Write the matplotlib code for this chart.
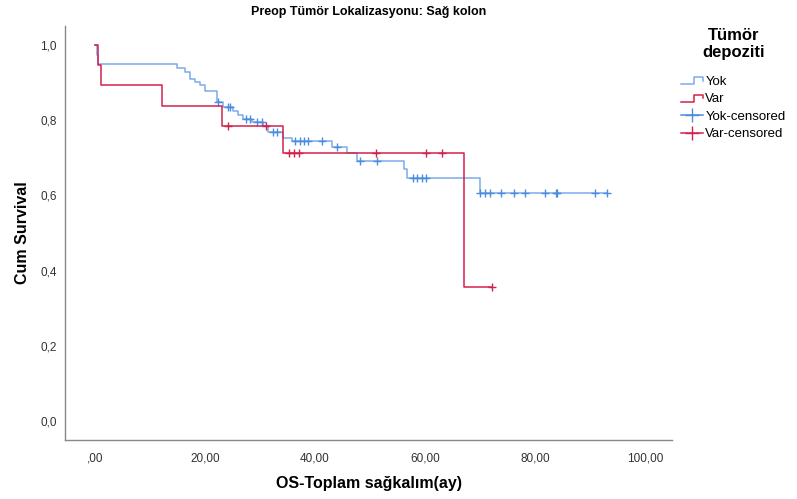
import numpy as np
import matplotlib
matplotlib.use("Agg")
import matplotlib.pyplot as plt
from matplotlib.ticker import FuncFormatter
from matplotlib.legend_handler import HandlerBase
from matplotlib.lines import Line2D

plt.rcParams['font.family'] = ['Liberation Sans', 'DejaVu Sans']

# Kaplan-Meier steps: (time, survival after the step)
yok_t = [0, 0.3, 0.6, 15.0, 16.4, 17.2, 18.2, 19.1, 20.0, 22.1, 23.3, 25.1, 26.0,
         26.9, 28.5, 30.6, 31.5, 34.1, 35.8, 43.0, 45.8, 47.7, 56.2, 56.8, 70.0]
yok_s = [1.0, 0.973, 0.949, 0.938, 0.927, 0.910, 0.902, 0.892, 0.878, 0.849, 0.834,
         0.823, 0.814, 0.802, 0.794, 0.783, 0.769, 0.752, 0.744, 0.728, 0.712, 0.692,
         0.669, 0.645, 0.607]
yok_cens = [22.3, 24.2, 24.5, 27.4, 28.2, 29.5, 30.3, 32.3, 33.1, 36.4, 37.2, 38.0,
            38.8, 41.2, 44.0, 48.1, 51.3, 57.9, 58.6, 59.4, 60.2, 70.0, 70.9, 71.8,
            73.9, 76.1, 78.1, 81.9, 83.8, 84.0, 90.9, 93.0]

var_t = [0, 0.6, 1.1, 12.1, 23.1, 34.1, 67.0]
var_s = [1.0, 0.947, 0.894, 0.838, 0.783, 0.712, 0.356]
var_cens = [24.1, 31.1, 35.2, 36.1, 37.0, 51.1, 60.1, 63.0, 72.1]

groups = ['Yok', 'Var']
line_cols = ['#7cabeb', '#d3204c']
cens_cols = ['#4a8de0', '#d3204c']


class StepHandler(HandlerBase):
    def create_artists(self, legend, orig, xd, yd, w, h, fontsize, trans):
        xs = [xd, xd + 0.6 * w, xd + 0.6 * w, xd + w, xd + w]
        ys = [yd + 0.1 * h, yd + 0.1 * h, yd + 0.85 * h, yd + 0.85 * h, yd + 0.45 * h]
        ln = Line2D(xs, ys, color=orig.get_color(), lw=orig.get_linewidth())
        ln.set_transform(trans)
        return [ln]


fig = plt.figure(figsize=(7.97, 4.99), dpi=100)
ax = fig.add_axes([65 / 797, 1 - 440 / 499, (672 - 65) / 797, (440 - 26) / 499])

step_handles = []
cens_handles = []
for name, t, s, c, lc, cc in zip(groups, [yok_t, var_t], [yok_s, var_s],
                                 [yok_cens, var_cens], line_cols, cens_cols):
    t = np.array(t)
    s = np.array(s)
    c = np.array(c)
    tp = np.append(t, c.max())
    sp = np.append(s, s[-1])
    h, = ax.step(tp, sp, where='post', color=lc, lw=1.1, label=name)
    step_handles.append(h)
    sc = s[np.searchsorted(t, c, side='right') - 1]
    ax.plot(c, sc, ls='none', marker='+', ms=6, mew=1.0, color=cc)
    cens_handles.append(Line2D([], [], color=cc, marker='+', ms=10, mew=1.0, lw=1.1,
                               label=name + '-censored'))

ax.set_xlim(-5.45, 104.9)
ax.set_ylim(-0.05, 1.05)
ax.set_xticks([0, 20, 40, 60, 80, 100])
ax.set_yticks([0, 0.2, 0.4, 0.6, 0.8, 1.0])
ax.xaxis.set_major_formatter(FuncFormatter(
    lambda v, p: (',00' if v == 0 else f'{v:.2f}'.replace('.', ','))))
ax.yaxis.set_major_formatter(FuncFormatter(lambda v, p: f'{v:.1f}'.replace('.', ',')))
ax.tick_params(length=0, labelsize=8.5, colors='#333333', pad=6)
ax.tick_params(axis='x', pad=9)
for sp_name in ['top', 'right']:
    ax.spines[sp_name].set_visible(False)
for sp_name in ['left', 'bottom']:
    ax.spines[sp_name].set_color('#888888')
    ax.spines[sp_name].set_linewidth(1.0)

ax.set_xlabel('OS-Toplam sağkalım(ay)', fontsize=11.5, fontweight='bold', labelpad=8)
ax.set_ylabel('Cum Survival', fontsize=11.5, fontweight='bold', labelpad=7)
fig.text(369 / 797, 1 - 12 / 499, 'Preop Tümör Lokalizasyonu: Sağ kolon',
         ha='center', va='center', fontsize=9, fontweight='bold')

leg = fig.legend(handles=step_handles + cens_handles,
                 handler_map={h: StepHandler() for h in step_handles},
                 loc='upper left', bbox_to_anchor=(681 / 797, 1 - 28 / 499),
                 title='Tümör\ndepoziti', frameon=False, fontsize=9.5,
                 handlelength=1.7, handletextpad=0.15, labelspacing=0.4,
                 numpoints=1, borderaxespad=0, borderpad=0)
leg.get_title().set_fontweight('bold')
leg.get_title().set_fontsize(12)
leg.get_title().set_multialignment('center')
leg._legend_box.sep = 11

fig.savefig('out.png', dpi=100)
